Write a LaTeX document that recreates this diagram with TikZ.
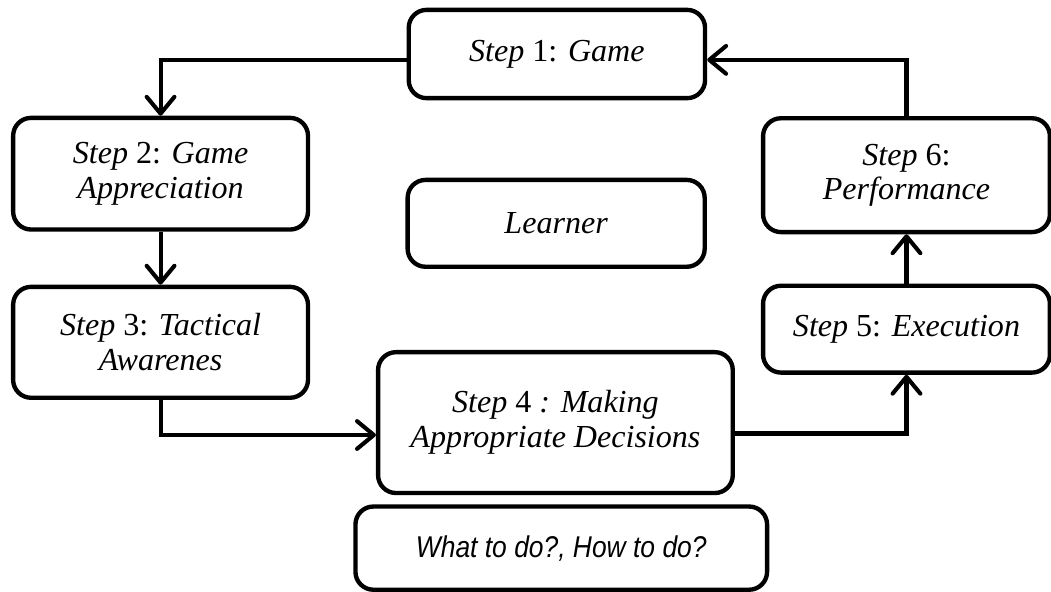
\documentclass[tikz,border=0pt]{standalone}
\usepackage{fontspec}
\setmainfont{Liberation Serif}
\setsansfont{Liberation Sans}
\newfontfamily\todofont{Liberation Sans}[FakeStretch=0.88]
\usetikzlibrary{positioning,arrows.meta,calc}

\begin{document}
\begin{tikzpicture}[font=\fontsize{12.5}{13.5}\selectfont]
\tikzset{
  b/.style={draw,line width=1.7pt,rounded corners=7pt,align=center,inner sep=2pt},
  ar/.style={line width=1.6pt,-{Straight Barb[length=2.3mm,width=3.8mm,round]}}
}
\useasboundingbox (0,0) rectangle (14.40,-8.11);
% cycle of steps
\node[b,minimum width=4.06cm,minimum height=1.21cm] (s1) at (7.63,-0.74) {\textit{Step} 1: \textit{Game}};
\node[b,minimum width=4.04cm,minimum height=1.53cm] (s2) at (2.20,-2.38) {\textit{Step} 2: \textit{Game}\\\textit{Appreciation}};
\node[b,minimum width=4.04cm,minimum height=1.52cm] (s3) at (2.20,-4.69) {\textit{Step} 3: \textit{Tactical}\\\textit{Awarenes}};
\node[b,minimum width=4.86cm,minimum height=1.93cm] (s4) at (7.61,-5.79) {\textit{Step} 4 \textit{: Making}\\\textit{Appropriate Decisions}};
\node[b,minimum width=3.93cm,minimum height=1.19cm] (s5) at (12.42,-4.51) {\textit{Step} 5: \textit{Execution}};
\node[b,minimum width=3.93cm,minimum height=1.56cm] (s6) at (12.42,-2.40) {\textit{Step} 6:\\\textit{Performance}};

% centre and note
\node[b,minimum width=4.07cm,minimum height=1.19cm] (lrn) at (7.62,-3.06) {\textit{Learner}};
\node[b,minimum width=5.64cm,minimum height=1.14cm,font=\todofont\itshape\fontsize{11.7}{13}\selectfont] (todo) at (7.69,-7.51) {What to do?, How to do?};

\draw[ar] ([yshift=-0.08cm]s1.west) -| (s2.north);
\draw[ar] (s2.south) -- (s3.north);
\draw[ar] (s3.south) |- ([yshift=-0.17cm]s4.west);
\draw[ar] ([yshift=-0.15cm]s4.east) -| (s5.south);
\draw[ar] (s5.north) -- (s6.south);
\draw[ar] (s6.north) |- ([yshift=-0.08cm]s1.east);
\end{tikzpicture}
\end{document}
